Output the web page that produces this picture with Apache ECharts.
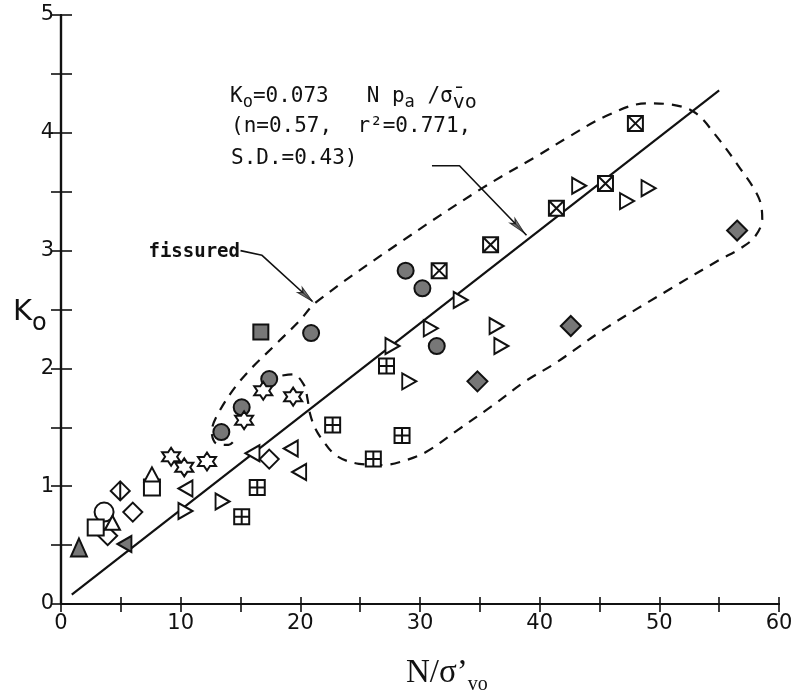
<!DOCTYPE html>
<html>
<head>
<meta charset="utf-8">
<script src="https://cdn.jsdelivr.net/npm/echarts@6/dist/echarts.min.js"></script>
<style>
html,body{margin:0;padding:0;background:#fff;}
#chart{width:800px;height:695px;}
</style>
</head>
<body>
<div id="chart"></div>
<script>
// ---- data ----
const xTickLabels = [0, 10, 20, 30, 40, 50, 60];
const yTickLabels = [0, 1, 2, 3, 4, 5];

const filledCircles = [[13.4,1.46],[15.1,1.67],[17.4,1.91],[20.9,2.30],[28.8,2.83],[30.2,2.68],[31.4,2.19]];
const filledSquares = [[16.7,2.31]];
const crossedSquares = [[31.6,2.83],[35.9,3.05],[41.4,3.36],[45.5,3.57],[48.0,4.08]];
const plusSquares = [[15.1,0.74],[16.4,0.99],[22.7,1.52],[26.1,1.23],[27.2,2.02],[28.5,1.43]];
const stars = [[9.2,1.25],[10.3,1.16],[12.2,1.21],[15.3,1.56],[16.9,1.81],[19.4,1.76]];
const rightTriangles = [[10.4,0.79],[13.5,0.87],[27.7,2.19],[29.1,1.89],[30.9,2.34],[33.4,2.58],[36.4,2.36],[36.8,2.19],[43.3,3.55],[47.3,3.42],[49.1,3.53]];
const leftTriangles = [[10.4,0.98],[16.0,1.28],[19.2,1.32],[19.9,1.12]];
const filledLeftTriangles = [[5.3,0.51]];
const filledDiamonds = [[34.8,1.89],[42.6,2.36],[56.5,3.17]];
const openDiamonds = [[3.9,0.58],[6.0,0.78],[17.4,1.23]];
const splitDiamonds = [[4.95,0.96]];
const openSquares = [[2.9,0.65],[7.6,0.99]];
const openCircles = [[3.6,0.78]];
const upTriangles = [[7.6,1.10],[4.3,0.69]];
const filledUpTriangles = [[1.5,0.48]];

const fitLine = [[0.9,0.08],[55.0,4.36]];
const envelope = [
  [18.5,1.94],[19.4,1.95],[20.3,1.86],[20.6,1.74],[20.8,1.62],[21.2,1.50],[21.8,1.40],[23.0,1.26],
  [24.9,1.19],[27.0,1.18],[28.5,1.21],[30.5,1.29],[33.2,1.48],[36.0,1.68],[38.8,1.89],[41.4,2.05],
  [45.5,2.34],[51.0,2.68],[55.0,2.92],[56.8,3.02],[58.0,3.12],[58.6,3.27],[58.3,3.45],[56.6,3.72],
  [54.7,3.98],[53.0,4.17],[51.0,4.24],[48.9,4.25],[45.5,4.14],[42.5,3.97],[39.9,3.81],[35.2,3.53],
  [28.2,3.06],[21.3,2.56],[19.9,2.40],[18.2,2.23],[15.1,1.91],[13.2,1.63],[12.6,1.46],[13.0,1.36],
  [14.0,1.35],[14.7,1.42]
];
const fissuredLeader = [[15.0,3.00],[16.8,2.96],[21.0,2.57]];
const fitLeader = [[31.0,3.72],[33.3,3.72],[38.9,3.13]];
const leaders = [fissuredLeader, fitLeader];

// ---- styles ----
const INK = '#111';
const GRAY = '#777';
const SYM = {
  star: 'path://M0,-10L2.89,-5L8.66,-5L5.77,0L8.66,5L2.89,5L0,10L-2.89,5L-8.66,5L-5.77,0L-8.66,-5L-2.89,-5Z',
  right: 'path://M0,0L17,9L0,18Z',
  left: 'path://M17,0L0,9L17,18Z',
  crossed: 'path://M0,0L10,0L10,10L0,10Z M0,0L10,10 M10,0L0,10',
  plus: 'path://M0,0L10,0L10,10L0,10Z M5,0L5,10 M0,5L10,5',
  splitDiamond: 'path://M5,0L10,5L5,10L0,5Z M5,0L5,10',
  arrowHead: 'path://M5,0L10,22L5,17L0,22Z'
};

function scatter(data, symbol, size, fill, z) {
  return {
    type: 'scatter', data: data, symbol: symbol, symbolSize: size,
    itemStyle: { color: fill, borderColor: INK, borderWidth: 2, opacity: 1 },
    z: z || 5, silent: true
  };
}
function leader(data) {
  return {
    type: 'line', data: data, symbol: 'none', silent: true, z: 3,
    lineStyle: { color: INK, width: 1.6, type: 'solid' }
  };
}

const chart = echarts.init(document.getElementById('chart'), null, { renderer: 'canvas' });
const tickFont = { fontFamily: 'DejaVu Sans', fontSize: 21, color: INK };
const axisLine = { show: true, lineStyle: { color: INK, width: 2.2 } };

const baseSeries = [
  { type: 'line', data: fitLine, symbol: 'none', silent: true, z: 2,
    lineStyle: { color: INK, width: 2.2 } },
  { type: 'line', data: envelope, symbol: 'none', smooth: 0.35, silent: true, z: 2,
    lineStyle: { color: INK, width: 2.2, type: [10, 8] } },
  leader(fissuredLeader),
  leader(fitLeader),
  scatter(filledCircles, 'circle', 16, GRAY),
  scatter(filledSquares, 'rect', 15, GRAY),
  scatter(crossedSquares, SYM.crossed, 15, '#fff'),
  scatter(plusSquares, SYM.plus, 15, '#fff'),
  scatter(stars, SYM.star, 18, '#fff'),
  scatter(rightTriangles, SYM.right, [14, 16], '#fff'),
  scatter(leftTriangles, SYM.left, [14, 16], '#fff'),
  scatter(filledLeftTriangles, SYM.left, [14, 16], GRAY),
  scatter(filledDiamonds, 'diamond', 20, GRAY),
  scatter(openDiamonds, 'diamond', 19, '#fff'),
  scatter(splitDiamonds, SYM.splitDiamond, 19, '#fff'),
  scatter(openSquares, 'rect', 16, '#fff'),
  scatter(openCircles, 'circle', 19, '#fff', 4),
  scatter(upTriangles, 'triangle', [15, 14], '#fff'),
  scatter(filledUpTriangles, 'triangle', [16, 18], GRAY)
];

chart.setOption({
  animation: false,
  backgroundColor: '#fff',
  grid: { left: 61, right: 21, top: 15, bottom: 91, containLabel: false },
  xAxis: [
    { type: 'value', min: 0, max: 60, interval: 5, position: 'bottom',
      axisLine: axisLine, splitLine: { show: false },
      axisTick: { inside: true, length: 7, lineStyle: { color: INK, width: 1.6 } },
      axisLabel: Object.assign({ margin: 9, formatter: v => xTickLabels.includes(v) ? String(v) : '' }, tickFont) },
    { type: 'value', min: 0, max: 60, interval: 5, position: 'top',
      axisLine: axisLine, splitLine: { show: false },
      axisTick: { inside: true, length: 8, lineStyle: { color: INK, width: 1.6 } },
      axisLabel: { show: false } }
  ],
  yAxis: [
    { type: 'value', min: 0, max: 5, interval: 0.5, position: 'left',
      axisLine: axisLine, splitLine: { show: false },
      axisTick: { inside: true, length: 11, lineStyle: { color: INK, width: 1.6 } },
      axisLabel: Object.assign({ margin: 7, formatter: v => yTickLabels.includes(v) ? String(v) : '' }, tickFont) },
    { type: 'value', min: 0, max: 5, interval: 0.5, position: 'right',
      axisLine: axisLine, splitLine: { show: false },
      axisTick: { inside: true, length: 10, lineStyle: { color: INK, width: 1.6 } },
      axisLabel: { show: false } }
  ],
  series: baseSeries,
  graphic: [
    { type: 'text', x: 230, y: 86, silent: true,
      style: { text: '{m|K}{s|o}{m|=0.073   N p}{s|a}{m| /σ̄}{v|vo}', textVerticalAlign: 'top', fill: INK,
        rich: {
          m: { fontFamily: 'DejaVu Sans Mono', fontSize: 21, lineHeight: 24, verticalAlign: 'top', color: INK },
          s: { fontFamily: 'DejaVu Sans Mono', fontSize: 17, lineHeight: 17, verticalAlign: 'top', padding: [8, 0, 0, 0], color: INK },
          v: { fontFamily: 'DejaVu Sans Mono', fontSize: 20, lineHeight: 20, verticalAlign: 'top', padding: [7, 0, 0, 0], color: INK }
        } } },
    { type: 'text', x: 231, y: 116, silent: true,
      style: { text: '(n=0.57,  r²=0.771,', textVerticalAlign: 'top', fill: INK,
        font: '21px "DejaVu Sans Mono"' } },
    { type: 'text', x: 231, y: 148, silent: true,
      style: { text: 'S.D.=0.43)', textVerticalAlign: 'top', fill: INK,
        font: '21px "DejaVu Sans Mono"' } },
    { type: 'text', x: 240, y: 252, silent: true,
      style: { text: 'fissured', textAlign: 'right', textVerticalAlign: 'middle', fill: INK,
        font: 'bold 19px "DejaVu Sans Mono"' } },
    { type: 'text', x: 13, y: 298, silent: true,
      style: { text: '{m|K}{s|o}', textVerticalAlign: 'top', fill: INK,
        rich: {
          m: { fontFamily: 'DejaVu Sans', fontSize: 29, lineHeight: 29, verticalAlign: 'top', color: INK },
          s: { fontFamily: 'DejaVu Sans', fontSize: 24, lineHeight: 24, verticalAlign: 'top', padding: [14, 0, 0, 0], color: INK }
        } } },
    { type: 'text', x: 406, y: 657, silent: true,
      style: { text: '{m|N/σ’}{s|vo}', textVerticalAlign: 'top', fill: INK,
        rich: {
          m: { fontFamily: 'Liberation Serif', fontSize: 33, lineHeight: 33, verticalAlign: 'top', color: INK },
          s: { fontFamily: 'Liberation Serif', fontSize: 20, lineHeight: 20, verticalAlign: 'top', padding: [18, 0, 0, 0], color: INK }
        } } }
  ]
});

// arrowheads at the ends of the leader lines, oriented along their last segment
const arrowData = leaders.map(function (pts) {
  const n = pts.length;
  const a = chart.convertToPixel({ gridIndex: 0 }, pts[n - 2]);
  const b = chart.convertToPixel({ gridIndex: 0 }, pts[n - 1]);
  const ang = Math.atan2(-(b[1] - a[1]), b[0] - a[0]) * 180 / Math.PI;
  const pre = [pts[n - 1][0] - (pts[n - 1][0] - pts[n - 2][0]) * 0.12,
               pts[n - 1][1] - (pts[n - 1][1] - pts[n - 2][1]) * 0.12];
  return { value: pre, symbolRotate: ang - 90 };
});
chart.setOption({
  series: baseSeries.concat([{
    type: 'scatter', data: arrowData, symbol: SYM.arrowHead, symbolSize: [7, 17], silent: true, z: 6,
    itemStyle: { color: '#555', borderColor: INK, borderWidth: 1.2 }
  }])
});
</script>
</body>
</html>
